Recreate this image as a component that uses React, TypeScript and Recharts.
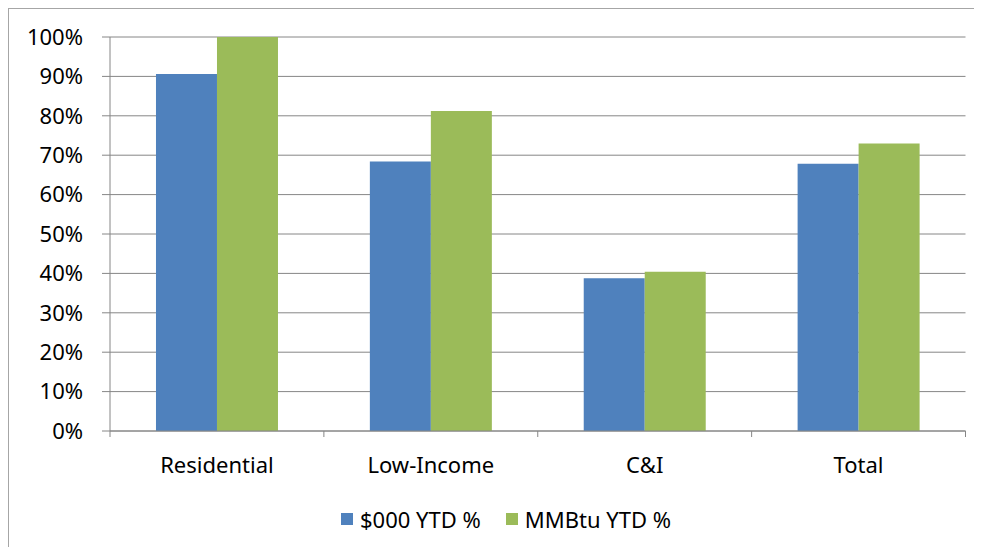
import { Bar, BarChart, CartesianGrid, Legend, XAxis, YAxis } from "recharts";

const categories = ["Residential", "Low-Income", "C&I", "Total"];
const dollarYtd = [90.6, 68.4, 38.8, 67.8];
const mmbtuYtd = [100, 81.2, 40.4, 73.0];
const yTicks = [0, 10, 20, 30, 40, 50, 60, 70, 80, 90, 100];

const seriesNames = ["$000 YTD %", "MMBtu YTD %"];
const colors = ["#4f81bd", "#9bbb59"];

const data = categories.map((name, i) => ({
  name,
  dollar: dollarYtd[i],
  mmbtu: mmbtuYtd[i],
}));

const FONT = "'Noto Sans', sans-serif";
const AXIS = "#868686";

function CategoryTick(props: any) {
  const { x, y, payload, index } = props;
  const half = payload?.offset ?? 213.9 / 2;
  return (
    <g>
      <line x1={x - half} x2={x - half} y1={y} y2={y + 6} stroke={AXIS} />
      {index === categories.length - 1 && (
        <line x1={x + half} x2={x + half} y1={y} y2={y + 6} stroke={AXIS} />
      )}
      <text x={x} y={y + 42} textAnchor="middle" fill="#000" fontSize={22} fontFamily={FONT}>
        {payload.value}
      </text>
    </g>
  );
}

function LegendContent() {
  return (
    <div style={{ display: "flex", alignItems: "center", fontFamily: FONT, fontSize: 22, color: "#000" }}>
      {seriesNames.map((s, i) => (
        <div key={s} style={{ display: "flex", alignItems: "center", marginRight: i === 0 ? 25 : 0 }}>
          <span style={{ width: 12, height: 12, background: colors[i], display: "inline-block", marginRight: 7 }} />
          <span>{s}</span>
        </div>
      ))}
    </div>
  );
}

export default function App() {
  return (
    <div
      style={{
        position: "relative",
        width: 965,
        height: 538,
        overflow: "hidden",
        borderLeft: "1px solid #a6a6a6",
        borderTop: "1px solid #a6a6a6",
        fontFamily: FONT,
        background: "#fff",
      }}
    >
      <BarChart
        width={965}
        height={538}
        data={data}
        margin={{ top: 28, right: 8.5, left: 0, bottom: 76 }}
        barCategoryGap="21.5%"
        barGap={0}
      >
        <CartesianGrid vertical={false} stroke={AXIS} strokeWidth={1} />
        <XAxis
          dataKey="name"
          height={40}
          axisLine={{ stroke: AXIS }}
          tickLine={false}
          tickSize={0}
          tickMargin={0}
          interval={0}
          tick={<CategoryTick />}
        />
        <YAxis
          width={101}
          domain={[0, 100]}
          ticks={yTicks}
          interval={0}
          tickFormatter={(v: number) => `${v}%`}
          axisLine={{ stroke: AXIS }}
          tickLine={{ stroke: AXIS }}
          tickSize={8}
          tickMargin={19}
          tick={{ fill: "#000", fontSize: 22, fontFamily: FONT }}
        />
        <Legend
          verticalAlign="middle"
          align="center"
          content={<LegendContent />}
          wrapperStyle={{ top: 495, left: 332, width: "auto" }}
        />
        <Bar dataKey="dollar" name={seriesNames[0]} fill={colors[0]} isAnimationActive={false} />
        <Bar dataKey="mmbtu" name={seriesNames[1]} fill={colors[1]} isAnimationActive={false} />
      </BarChart>
    </div>
  );
}
